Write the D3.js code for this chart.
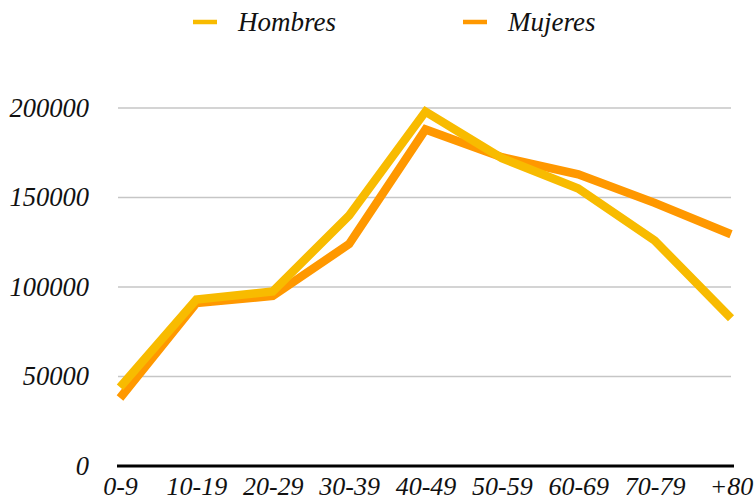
<!DOCTYPE html>
<html>
<head>
<meta charset="utf-8">
<script src="https://cdn.jsdelivr.net/npm/d3@7"></script>
<style>
  body { margin: 0; background: #fff; }
  text { font-family: "Liberation Serif", "Times New Roman", serif; font-style: italic; fill: #111; }
</style>
</head>
<body>
<svg width="756" height="502"></svg>
<script>
// données
const categories = ['0-9', '10-19', '20-29', '30-39', '40-49', '50-59', '60-69', '70-79', '+80'];
const hombres = [44000, 93000, 97500, 140000, 198000, 172000, 155000, 126000, 82500];
const mujeres = [38000, 91000, 95000, 124000, 188000, 172500, 163000, 147000, 129500];
const yTicks = [0, 50000, 100000, 150000, 200000];

const series = [
  { name: 'Hombres', values: hombres, color: '#f8bb00' },
  { name: 'Mujeres', values: mujeres, color: '#ff9800' }
];

const svg = d3.select('svg');
const margin = { top: 108, right: 25, bottom: 36, left: 120 };
const innerWidth = 756 - margin.left - margin.right;
const innerHeight = 466 - margin.top;

const g = svg.append('g')
  .attr('transform', `translate(${margin.left},${margin.top})`);

// échelles
const x = d3.scalePoint()
  .domain(categories)
  .range([0, innerWidth]);

const y = d3.scaleLinear()
  .domain([0, 200000])
  .range([innerHeight, 0]);

// grille
g.selectAll('.grid')
  .data(yTicks.filter(d => d > 0))
  .enter().append('line')
  .attr('x1', -2)
  .attr('x2', innerWidth)
  .attr('y1', d => y(d))
  .attr('y2', d => y(d))
  .attr('stroke', '#c6c6c6')
  .attr('stroke-width', 1.5);

// axe Y
const yAxis = g.append('g').call(d3.axisLeft(y).tickValues(yTicks).tickFormat(d => d).tickSize(0).tickPadding(31));
yAxis.select('.domain').remove();
yAxis.selectAll('text')
  .style('font-family', '"Liberation Serif", serif')
  .style('font-style', 'italic')
  .style('font-size', '26.5px')
  .attr('fill', '#111');

// axe X
const xAxis = g.append('g')
  .attr('transform', `translate(0,${innerHeight})`)
  .call(d3.axisBottom(x).tickSize(0).tickPadding(11));
xAxis.select('.domain')
  .attr('d', `M-3,0H${innerWidth + 3}`)
  .attr('stroke', '#000')
  .attr('stroke-width', 3);
xAxis.selectAll('text')
  .style('font-family', '"Liberation Serif", serif')
  .style('font-style', 'italic')
  .style('font-size', '26px')
  .attr('fill', '#111');

// courbes
const line = d3.line()
  .x((d, i) => x(categories[i]))
  .y(d => y(d));

series.slice().reverse().forEach(s => {
  g.append('path')
    .attr('d', line(s.values))
    .attr('fill', 'none')
    .attr('stroke', s.color)
    .attr('stroke-width', 8.5)
    .attr('stroke-linejoin', 'miter');
});

// légende
const legendX = [193, 463];
series.forEach((s, i) => {
  const lg = svg.append('g').attr('transform', `translate(${legendX[i]},22)`);
  lg.append('line')
    .attr('x1', 0).attr('x2', 24)
    .attr('stroke', s.color)
    .attr('stroke-width', 4.5);
  lg.append('text')
    .attr('x', 45)
    .attr('y', 9)
    .style('font-size', '27px')
    .text(s.name);
});
</script>
</body>
</html>
